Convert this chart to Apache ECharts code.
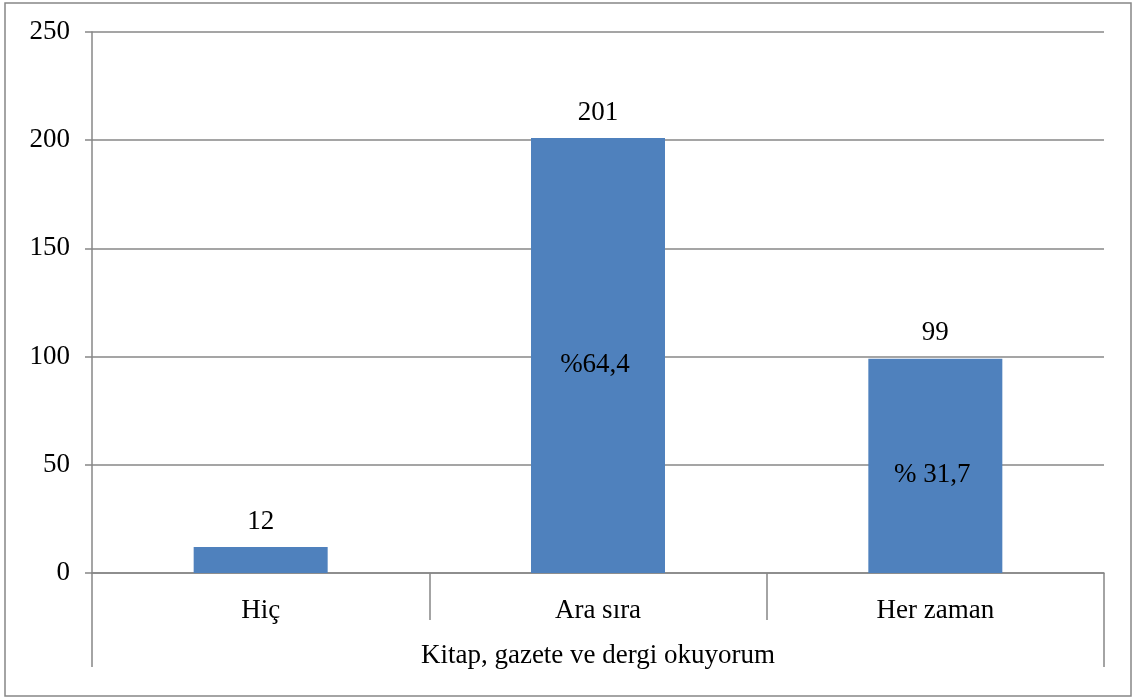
<!DOCTYPE html>
<html>
<head>
<meta charset="utf-8">
<script src="https://cdn.jsdelivr.net/npm/echarts@6/dist/echarts.min.js"></script>
<style>
  html, body { margin: 0; padding: 0; background: #fff; }
  #main { width: 1136px; height: 699px; }
</style>
</head>
<body>
<div id="main"></div>
<script>
// 数据
var categories = ['Hiç', 'Ara sıra', 'Her zaman'];
var counts = [12, 201, 99];
var percentLabels = ['', '%64,4', '% 31,7'];
var groupLabel = ['Kitap, gazete ve dergi okuyorum'];
var yTicks = { min: 0, max: 250, interval: 50 };

var font = 'Liberation Serif, Times New Roman, serif';
var lineColor = '#878787';
var fs = 27;

var chart = echarts.init(document.getElementById('main'));

chart.setOption({
    animation: false,
    textStyle: { fontFamily: font },
    graphic: [{
        type: 'rect',
        shape: { x: 5, y: 3, width: 1126, height: 693 },
        style: { fill: 'none', stroke: lineColor, lineWidth: 1.5 }
    }],
    grid: { left: 92, right: 32, top: 32, bottom: 126 },
    xAxis: [
        {
            type: 'category',
            data: categories,
            boundaryGap: true,
            axisLine: { lineStyle: { color: lineColor, width: 1.5 } },
            axisTick: { show: true, interval: 0, alignWithLabel: false, length: 47, lineStyle: { color: lineColor, width: 1.5 } },
            axisLabel: { color: '#000', fontSize: fs, fontFamily: font, margin: 24 }
        },
        {
            // 外层分组标签
            type: 'category',
            position: 'bottom',
            data: groupLabel,
            boundaryGap: true,
            axisLine: { show: false },
            axisTick: { show: true, interval: 0, alignWithLabel: false, length: 94, lineStyle: { color: lineColor, width: 1.5 } },
            axisLabel: { color: '#000', fontSize: fs, fontFamily: font, margin: 69 }
        }
    ],
    yAxis: {
        type: 'value',
        min: yTicks.min,
        max: yTicks.max,
        interval: yTicks.interval,
        axisLine: { show: true, lineStyle: { color: lineColor, width: 1.5 } },
        axisTick: { show: true, length: 7, lineStyle: { color: lineColor, width: 1.5 } },
        axisLabel: { color: '#000', fontSize: fs, fontFamily: font, margin: 22 },
        splitLine: { lineStyle: { color: lineColor, width: 1.5 } }
    },
    series: [
        {
            name: 'count',
            type: 'bar',
            barWidth: 134,
            itemStyle: { color: '#4f81bd' },
            label: {
                show: true,
                position: 'top',
                distance: 12,
                color: '#000',
                fontSize: fs,
                fontFamily: font
            },
            data: counts
        },
        {
            // 百分比标签（透明柱）
            name: 'percent',
            type: 'bar',
            barWidth: 134,
            barGap: '-100%',
            itemStyle: { color: 'rgba(0,0,0,0)' },
            label: {
                show: true,
                position: 'inside',
                offset: [-3, 9],
                color: '#000',
                fontSize: fs,
                fontFamily: font,
                formatter: function (p) { return percentLabels[p.dataIndex]; }
            },
            data: counts
        }
    ]
});
</script>
</body>
</html>
